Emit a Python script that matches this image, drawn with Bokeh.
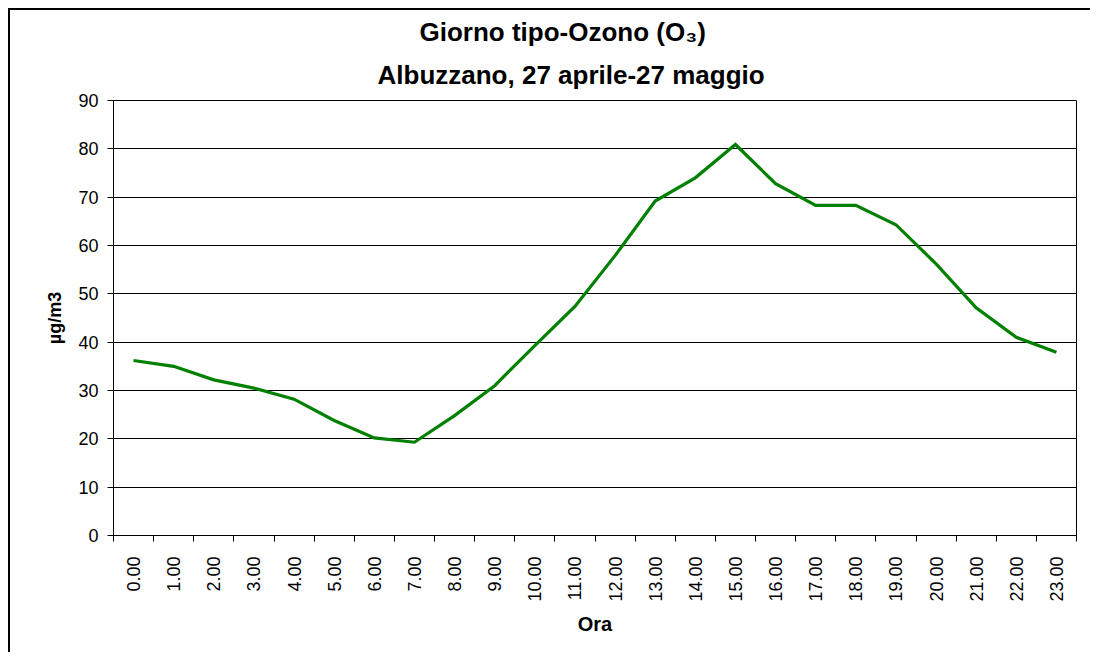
import numpy as np
from bokeh.plotting import figure
from bokeh.models import FixedTicker, Range1d, Title
from bokeh.embed import file_html
from bokeh.resources import INLINE

hours = ["0.00", "1.00", "2.00", "3.00", "4.00", "5.00", "6.00", "7.00",
         "8.00", "9.00", "10.00", "11.00", "12.00", "13.00", "14.00", "15.00",
         "16.00", "17.00", "18.00", "19.00", "20.00", "21.00", "22.00", "23.00"]
ozone = [36.2, 35.0, 32.2, 30.5, 28.2, 23.8, 20.2, 19.3,
         24.8, 31.0, 39.3, 47.4, 57.9, 69.2, 74.0, 80.9,
         72.8, 68.3, 68.3, 64.3, 56.2, 47.1, 41.0, 37.9]
y_ticks = [0, 10, 20, 30, 40, 50, 60, 70, 80, 90]
title_1 = "Giorno tipo-Ozono (O\u2083)"
title_2 = "Albuzzano, 27 aprile-27 maggio"
y_label = "\u00b5g/m3"
x_label = "Ora"

FONT = "Liberation Sans"
n = len(hours)
xs = np.arange(n) + 0.5

p = figure(width=1082, height=644, output_backend="svg", toolbar_location=None,
           x_range=Range1d(0, n), y_range=Range1d(0, 90),
           min_border_left=103, min_border_top=90, min_border_right=16,
           min_border_bottom=119, title=None)
p.styles = {"border-left": "2px solid black", "border-top": "2px solid black",
            "margin-left": "8px", "margin-top": "8px"}

p.background_fill_color = "white"
p.border_fill_color = "white"
p.outline_line_color = "#000000"
p.outline_line_width = 1

p.xgrid.visible = False
p.ygrid.grid_line_color = "#000000"
p.ygrid.grid_line_width = 1
p.ygrid.ticker = FixedTicker(ticks=y_ticks)

p.line(xs, ozone, line_color="#008000", line_width=3.2, line_join="miter")

# x axis
p.xaxis.ticker = FixedTicker(ticks=list(xs), minor_ticks=list(range(n + 1)))
p.xaxis.major_label_overrides = {float(x): h for x, h in zip(xs, hours)}
p.xaxis.major_label_orientation = np.pi / 2
p.xaxis.major_tick_out = 0
p.xaxis.major_tick_in = 0
p.xaxis.minor_tick_out = 6
p.xaxis.minor_tick_in = 0
p.xaxis.minor_tick_line_color = "#000000"
p.xaxis.major_label_standoff = 15
p.xaxis.major_label_text_font = FONT
p.xaxis.major_label_text_font_size = "18px"
p.xaxis.major_label_text_color = "black"
p.xaxis.axis_label = x_label
p.xaxis.axis_label_text_font = FONT
p.xaxis.axis_label_text_font_style = "bold"
p.xaxis.axis_label_text_font_size = "20px"
p.xaxis.axis_label_text_color = "black"
p.xaxis.axis_label_standoff = 8
p.xaxis.axis_line_color = "#000000"

# y axis
p.yaxis.ticker = FixedTicker(ticks=y_ticks)
p.yaxis.major_tick_out = 6
p.yaxis.major_tick_in = 0
p.yaxis.minor_tick_line_color = None
p.yaxis.major_tick_line_color = "#000000"
p.yaxis.major_label_standoff = 9
p.yaxis.major_label_text_font = FONT
p.yaxis.major_label_text_font_size = "18px"
p.yaxis.major_label_text_color = "black"
p.yaxis.axis_label = y_label
p.yaxis.axis_label_text_font = FONT
p.yaxis.axis_label_text_font_style = "bold"
p.yaxis.axis_label_text_font_size = "18px"
p.yaxis.axis_label_text_color = "black"
p.yaxis.axis_label_standoff = 10
p.yaxis.axis_line_color = "#000000"

# titles: the later one added ends up on top
p.add_layout(Title(text=title_2, align="left", offset=264, text_font=FONT,
                   text_font_style="bold", text_font_size="26px",
                   text_color="black", standoff=22), "above")
p.add_layout(Title(text=title_1, align="left", offset=306, text_font=FONT,
                   text_font_style="bold", text_font_size="26px",
                   text_color="black", standoff=0), "above")

open("out.html", "w").write(file_html(p, INLINE))
